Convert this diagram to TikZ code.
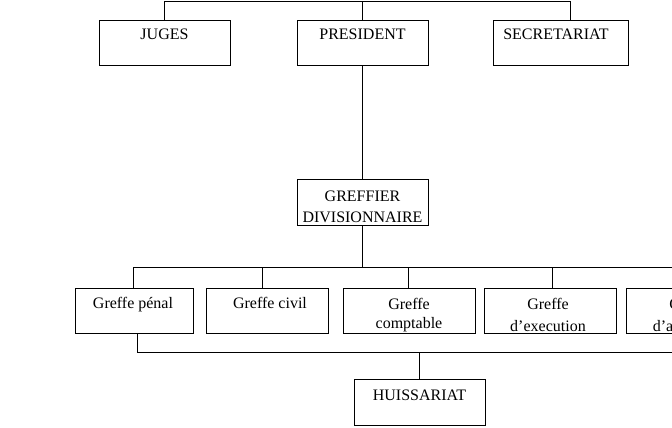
\documentclass[tikz,border=0pt]{standalone}
\usepackage{fontspec}
\setmainfont{Liberation Serif}
\begin{document}
\begin{tikzpicture}[x=1pt,y=-1pt,
  box/.style={draw=black,line width=0.6pt,rectangle,inner sep=0pt,minimum height=45pt},
  lbl/.style={anchor=base,inner sep=0pt,font=\fontsize{16}{20}\selectfont},
  conn/.style={draw=black,line width=0.6pt}]
\useasboundingbox (0,0) rectangle (672,428);
\clip (0,0) rectangle (672,428);
% top row
\node[box,minimum width=131pt] (juges) at (164.5,42.5) {};
\node[box,minimum width=131pt] (pres) at (362.5,42.5) {};
\node[box,minimum width=135pt] (secr) at (560.5,42.5) {};
\node[lbl] (tjuges) at (164.5,40) {JUGES};
\node[lbl] (tpres) at (362.5,40) {PRESIDENT};
\node[lbl] (tsecr) at (556,40) {SECRETARIAT};
% greffier
\node[box,minimum width=131pt,minimum height=46pt] (greff) at (362.5,202) {};
\node[lbl] (tgreff1) at (362.5,201) {GREFFIER};
\node[lbl] (tgreff2) at (362.5,222) {DIVISIONNAIRE};
% greffe row
\node[box,minimum width=118pt] (penal) at (134,310.5) {};
\node[box,minimum width=122pt] (civil) at (267,310.5) {};
\node[box,minimum width=132pt] (compt) at (409,310.5) {};
\node[box,minimum width=132pt] (exec) at (550,310.5) {};
\node[box,minimum width=132pt] (appl) at (692,310.5) {};
\node[lbl] (tpenal) at (133,308) {Greffe pénal};
\node[lbl] (tcivil) at (270,308) {Greffe civil};
\node[lbl] (tcompt1) at (409,309) {Greffe};
\node[lbl] (tcompt2) at (409,328) {comptable};
\node[lbl] (texec1) at (548,309) {Greffe};
\node[lbl] (texec2) at (548,331) {d’execution};
\node[lbl] (tappl1) at (690,309) {Greffe};
\node[lbl] (tappl2) at (695,331) {d’application};
% huissariat
\node[box,minimum width=131pt,minimum height=46pt] (huis) at (419.5,402) {};
\node[lbl] (thuis) at (419.5,400) {HUISSARIAT};
% connectors
\coordinate (topy) at (0,1);
\coordinate (secrc) at (570,1);
\draw[conn] (juges.north) -- (juges.north |- topy) -- (secrc) -- (secrc |- secr.north);
\draw[conn] (pres.north) -- (pres.north |- topy);
\draw[conn] (pres.south) -- (greff.north);
\coordinate (bar) at (0,267);
\coordinate (barL) at (133,267);
\coordinate (barR) at (690,267);
\draw[conn] (greff.south) -- (greff.south |- bar);
\draw[conn] (barL) -- (barR);
\draw[conn] (barL) -- (barL |- penal.north);
\coordinate (c2) at (262,267);
\coordinate (c3) at (408,267);
\coordinate (c4) at (552,267);
\coordinate (c5) at (692,267);
\draw[conn] (c2) -- (c2 |- civil.north);
\draw[conn] (c3) -- (c3 |- compt.north);
\draw[conn] (c4) -- (c4 |- exec.north);
\draw[conn] (c5) -- (c5 |- appl.north);
\coordinate (b1) at (137,352);
\coordinate (b2) at (690,352);
\coordinate (hc) at (419,352);
\draw[conn] (b1 |- penal.south) -- (b1) -- (b2);
\draw[conn] (hc) -- (hc |- huis.north);
\end{tikzpicture}
\end{document}
